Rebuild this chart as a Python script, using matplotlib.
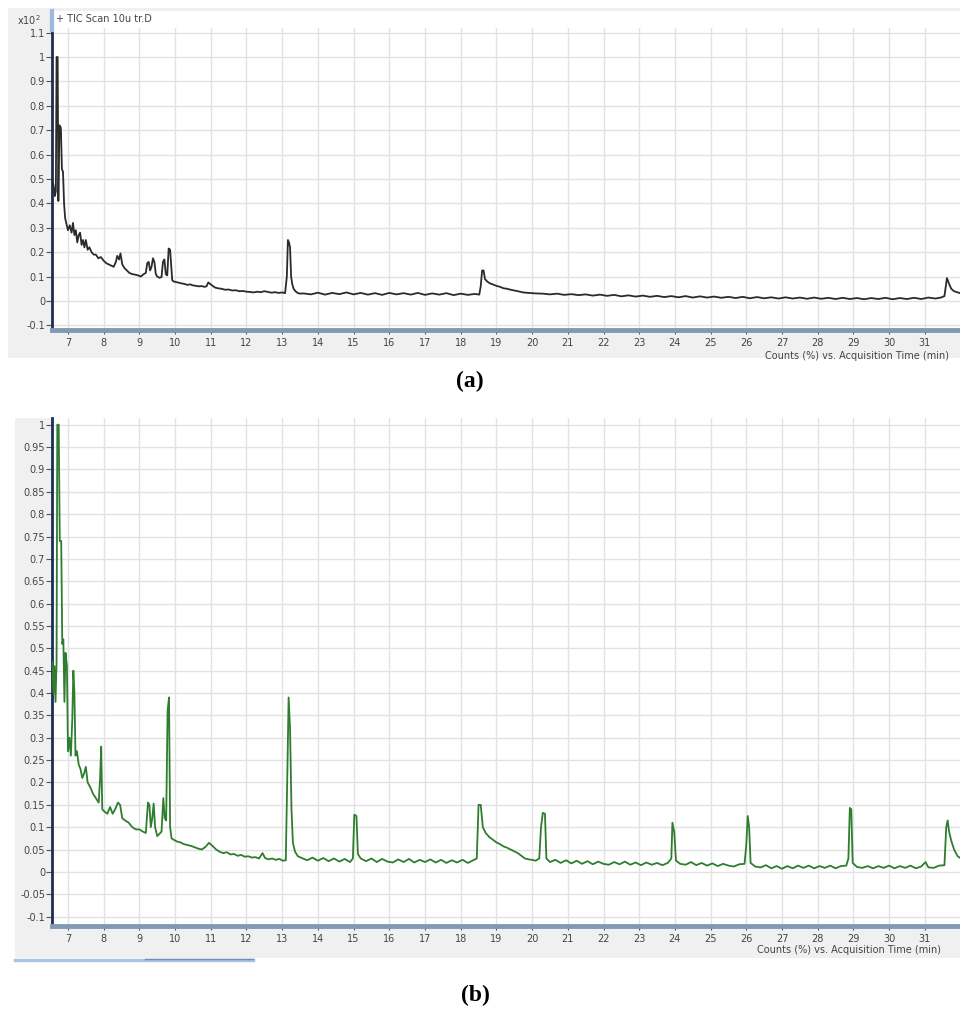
import matplotlib.pyplot as plt
from matplotlib.patches import Rectangle
from matplotlib.lines import Line2D

# TIC chromatogram (a): time (min), counts (x10^2 %)
tempo_a = [6.56, 6.60, 6.63, 6.66, 6.68, 6.71, 6.73, 6.76, 6.80, 6.83, 6.86, 6.89, 6.92, 6.95,
           7.00, 7.05, 7.10, 7.14, 7.18, 7.22, 7.26, 7.30, 7.34, 7.38, 7.42, 7.46, 7.50, 7.55,
           7.60, 7.66, 7.72, 7.78, 7.85, 7.92, 8.00, 8.07, 8.14, 8.21, 8.28, 8.34, 8.38, 8.43,
           8.47, 8.52, 8.58, 8.65, 8.72, 8.80, 8.88, 8.96, 9.04, 9.12, 9.18, 9.22, 9.26, 9.30,
           9.34, 9.38, 9.42, 9.46, 9.50, 9.56, 9.62, 9.66, 9.70, 9.74, 9.78, 9.82, 9.86, 9.89,
           9.92, 9.96, 10.02, 10.10, 10.18, 10.26, 10.34, 10.42, 10.50, 10.58, 10.66, 10.74,
           10.82, 10.88, 10.93, 10.98, 11.05, 11.12, 11.20, 11.30, 11.40, 11.50, 11.60, 11.70,
           11.80, 11.90, 12.00, 12.10, 12.20, 12.30, 12.40, 12.50, 12.60, 12.70, 12.80, 12.90,
           13.00, 13.08, 13.13, 13.16, 13.19, 13.22, 13.25, 13.28, 13.32, 13.37, 13.43, 13.50,
           13.60, 13.80, 14.00, 14.20, 14.40, 14.60, 14.80, 15.00, 15.20, 15.40, 15.60, 15.80,
           16.00, 16.20, 16.40, 16.60, 16.80, 17.00, 17.20, 17.40, 17.60, 17.80, 18.00, 18.20,
           18.40, 18.52, 18.56, 18.60, 18.64, 18.68, 18.74, 18.82, 18.90, 19.00, 19.10, 19.20,
           19.30, 19.40, 19.50, 19.60, 19.75, 19.90, 20.10, 20.30, 20.50, 20.70, 20.90, 21.10,
           21.30, 21.50, 21.70, 21.90, 22.10, 22.30, 22.50, 22.70, 22.90, 23.10, 23.30, 23.50,
           23.70, 23.90, 24.10, 24.30, 24.50, 24.70, 24.90, 25.10, 25.30, 25.50, 25.70, 25.90,
           26.10, 26.30, 26.50, 26.70, 26.90, 27.10, 27.30, 27.50, 27.70, 27.90, 28.10, 28.30,
           28.50, 28.70, 28.90, 29.10, 29.30, 29.50, 29.70, 29.90, 30.10, 30.30, 30.50, 30.70,
           30.90, 31.10, 31.30, 31.45, 31.55, 31.62, 31.68, 31.74, 31.82, 31.92, 32.05, 32.20,
           32.40]
contagem_a = [0.50, 0.47, 0.43, 0.45, 1.00, 1.00, 0.41, 0.72, 0.71, 0.54, 0.53, 0.40, 0.34, 0.32,
              0.29, 0.31, 0.28, 0.32, 0.27, 0.29, 0.24, 0.27, 0.28, 0.23, 0.25, 0.22, 0.25, 0.21,
              0.22, 0.20, 0.19, 0.19, 0.175, 0.18, 0.165, 0.155, 0.15, 0.145, 0.14, 0.16, 0.185, 0.17,
              0.195, 0.15, 0.135, 0.125, 0.115, 0.11, 0.108, 0.105, 0.10, 0.11, 0.115, 0.155, 0.16, 0.125,
              0.14, 0.175, 0.16, 0.11, 0.10, 0.095, 0.098, 0.16, 0.17, 0.11, 0.105, 0.215, 0.21, 0.15,
              0.085, 0.08, 0.078, 0.075, 0.072, 0.07, 0.066, 0.068, 0.064, 0.062, 0.06, 0.061,
              0.058, 0.06, 0.076, 0.07, 0.062, 0.055, 0.052, 0.05, 0.046, 0.047, 0.043, 0.044,
              0.04, 0.041, 0.038, 0.037, 0.035, 0.038, 0.036, 0.04, 0.037, 0.034, 0.036, 0.033,
              0.035, 0.032, 0.10, 0.25, 0.24, 0.22, 0.10, 0.07, 0.05, 0.04, 0.033, 0.03,
              0.031, 0.027, 0.034, 0.026, 0.033, 0.028, 0.035, 0.027, 0.033, 0.026, 0.032, 0.025,
              0.033, 0.027, 0.032, 0.026, 0.033, 0.025, 0.031, 0.026, 0.032, 0.024, 0.030, 0.025,
              0.029, 0.026, 0.06, 0.125, 0.125, 0.09, 0.08, 0.072, 0.068, 0.062, 0.058, 0.052,
              0.05, 0.046, 0.043, 0.040, 0.035, 0.033, 0.031, 0.030, 0.027, 0.030, 0.025, 0.028,
              0.024, 0.027, 0.022, 0.026, 0.021, 0.025, 0.019, 0.023, 0.018, 0.022, 0.017, 0.021,
              0.016, 0.020, 0.015, 0.020, 0.014, 0.019, 0.014, 0.018, 0.013, 0.017, 0.012, 0.017,
              0.011, 0.016, 0.011, 0.015, 0.010, 0.015, 0.010, 0.014, 0.009, 0.014, 0.009, 0.013,
              0.008, 0.013, 0.008, 0.012, 0.007, 0.012, 0.008, 0.013, 0.007, 0.012, 0.008, 0.013,
              0.008, 0.014, 0.010, 0.014, 0.02, 0.094, 0.07, 0.05, 0.04, 0.035, 0.03, 0.028,
              0.026]

# chromatogram (b)
tempo_b = [6.56, 6.59, 6.62, 6.65, 6.68, 6.70, 6.74, 6.77, 6.81, 6.84, 6.87, 6.90, 6.93, 6.97,
           7.00, 7.04, 7.08, 7.12, 7.15, 7.18, 7.21, 7.25, 7.30, 7.35, 7.40, 7.45, 7.50, 7.55,
           7.62, 7.70, 7.78, 7.86, 7.90, 7.93, 7.96, 8.02, 8.10, 8.18, 8.25, 8.32, 8.40, 8.46,
           8.52, 8.60, 8.70, 8.80, 8.90, 9.00, 9.10, 9.18, 9.24, 9.28, 9.32, 9.36, 9.40, 9.44,
           9.50, 9.56, 9.62, 9.67, 9.71, 9.75, 9.79, 9.83, 9.86, 9.90, 9.96, 10.05, 10.15, 10.25,
           10.35, 10.45, 10.55, 10.65, 10.75, 10.85, 10.95, 11.05, 11.15, 11.25, 11.35, 11.45,
           11.55, 11.65, 11.75, 11.85, 11.95, 12.05, 12.15, 12.25, 12.35, 12.45, 12.52, 12.62,
           12.72, 12.82, 12.92, 13.02, 13.10, 13.14, 13.18, 13.22, 13.26, 13.30, 13.36, 13.44,
           13.55, 13.70, 13.85, 14.00, 14.15, 14.30, 14.45, 14.60, 14.75, 14.90, 14.98, 15.02,
           15.08, 15.12, 15.20, 15.35, 15.50, 15.65, 15.80, 15.95, 16.10, 16.25, 16.40, 16.55,
           16.70, 16.85, 17.00, 17.15, 17.30, 17.45, 17.60, 17.75, 17.90, 18.05, 18.20, 18.35,
           18.45, 18.50, 18.56, 18.62, 18.70, 18.80, 18.90, 19.00, 19.10, 19.20, 19.30, 19.40,
           19.50, 19.60, 19.70, 19.80, 19.90, 20.00, 20.10, 20.20, 20.25, 20.30, 20.36, 20.40,
           20.50, 20.65, 20.80, 20.95, 21.10, 21.25, 21.40, 21.55, 21.70, 21.85, 22.00, 22.15,
           22.30, 22.45, 22.60, 22.75, 22.90, 23.05, 23.20, 23.35, 23.50, 23.65, 23.80, 23.90,
           23.93, 23.98, 24.03, 24.15, 24.30, 24.45, 24.60, 24.75, 24.90, 25.05, 25.20, 25.35,
           25.50, 25.65, 25.80, 25.95, 26.00, 26.04, 26.08, 26.12, 26.25, 26.40, 26.55, 26.70,
           26.85, 27.00, 27.15, 27.30, 27.45, 27.60, 27.75, 27.90, 28.05, 28.20, 28.35, 28.50,
           28.65, 28.80, 28.86, 28.90, 28.94, 28.98, 29.10, 29.25, 29.40, 29.55, 29.70, 29.85,
           30.00, 30.15, 30.30, 30.45, 30.60, 30.75, 30.90, 31.02, 31.10, 31.25, 31.40, 31.55,
           31.60, 31.64, 31.68, 31.74, 31.82, 31.92, 32.05, 32.20, 32.40]
contagem_b = [0.47, 0.40, 0.46, 0.38, 0.47, 1.00, 1.00, 0.74, 0.74, 0.51, 0.52, 0.38, 0.49, 0.46,
              0.27, 0.30, 0.26, 0.34, 0.45, 0.40, 0.26, 0.27, 0.24, 0.23, 0.21, 0.22, 0.235, 0.20,
              0.19, 0.175, 0.165, 0.155, 0.21, 0.28, 0.14, 0.135, 0.13, 0.145, 0.13, 0.14, 0.155, 0.15,
              0.12, 0.115, 0.11, 0.10, 0.095, 0.095, 0.09, 0.087, 0.155, 0.15, 0.10, 0.12, 0.153, 0.10,
              0.08, 0.085, 0.09, 0.165, 0.12, 0.115, 0.36, 0.39, 0.10, 0.075, 0.072, 0.068, 0.066, 0.062,
              0.06, 0.058, 0.055, 0.052, 0.05, 0.056, 0.065, 0.058, 0.05, 0.045, 0.042, 0.044,
              0.039, 0.04, 0.036, 0.038, 0.034, 0.035, 0.032, 0.033, 0.030, 0.042, 0.031, 0.028,
              0.030, 0.027, 0.029, 0.025, 0.026, 0.20, 0.39, 0.32, 0.14, 0.065, 0.045, 0.035,
              0.031, 0.026, 0.032, 0.025, 0.031, 0.024, 0.030, 0.023, 0.029, 0.022, 0.03, 0.128,
              0.125, 0.04, 0.03, 0.024, 0.030, 0.022, 0.029, 0.023, 0.021, 0.028, 0.022, 0.029,
              0.021, 0.027, 0.022, 0.028, 0.021, 0.027, 0.020, 0.026, 0.021, 0.027, 0.020, 0.026,
              0.03, 0.15, 0.15, 0.10, 0.087, 0.078, 0.072, 0.066, 0.062, 0.057, 0.054, 0.05,
              0.046, 0.042, 0.036, 0.030, 0.028, 0.027, 0.025, 0.030, 0.10, 0.132, 0.13, 0.03,
              0.022, 0.027, 0.020, 0.026, 0.019, 0.025, 0.018, 0.024, 0.017, 0.023, 0.018, 0.016,
              0.022, 0.017, 0.023, 0.016, 0.021, 0.015, 0.021, 0.016, 0.020, 0.015, 0.020, 0.03,
              0.11, 0.09, 0.025, 0.018, 0.016, 0.022, 0.015, 0.020, 0.014, 0.019, 0.013, 0.018,
              0.014, 0.012, 0.017, 0.018, 0.06, 0.125, 0.10, 0.02, 0.012, 0.010, 0.015, 0.008,
              0.013, 0.007, 0.013, 0.008, 0.014, 0.009, 0.014, 0.008, 0.013, 0.009, 0.014, 0.008,
              0.013, 0.014, 0.03, 0.143, 0.14, 0.02, 0.011, 0.009, 0.013, 0.008, 0.013, 0.009,
              0.014, 0.008, 0.013, 0.009, 0.014, 0.008, 0.012, 0.022, 0.010, 0.009, 0.014, 0.015,
              0.10, 0.115, 0.09, 0.07, 0.05, 0.035, 0.028, 0.025, 0.023]

ticks_x = list(range(7, 33))
labels_x = [str(t) for t in range(7, 32)] + ['']
ticks_ya = [-0.1, 0, 0.1, 0.2, 0.3, 0.4, 0.5, 0.6, 0.7, 0.8, 0.9, 1, 1.1]
labels_ya = ['-0.1', '0', '0.1', '0.2', '0.3', '0.4', '0.5', '0.6', '0.7', '0.8', '0.9', '1', '1.1']
ticks_yb = [-0.1, -0.05, 0, 0.05, 0.1, 0.15, 0.2, 0.25, 0.3, 0.35, 0.4, 0.45, 0.5,
            0.55, 0.6, 0.65, 0.7, 0.75, 0.8, 0.85, 0.9, 0.95, 1]
labels_yb = ['-0.1', '-0.05', '0', '0.05', '0.1', '0.15', '0.2', '0.25', '0.3', '0.35', '0.4',
             '0.45', '0.5', '0.55', '0.6', '0.65', '0.7', '0.75', '0.8', '0.85', '0.9', '0.95', '1']

W, H = 960, 1010
fig = plt.figure(figsize=(9.6, 10.1), dpi=100)


def fx(px):
    return px / W


def fy(py):
    return 1 - py / H


# fundos cinza dos dois paineis (atras dos eixos)
fig.patches.append(Rectangle((fx(8), fy(358)), fx(952), 350 / H, transform=fig.transFigure,
                             facecolor='#f0f0f0', edgecolor='none', zorder=-5))
# faixa branca do cabecalho acima do grafico (a)
fig.patches.append(Rectangle((fx(52), fy(29)), fx(908), 18 / H, transform=fig.transFigure,
                             facecolor='white', edgecolor='none', zorder=-4))
fig.patches.append(Rectangle((fx(15), fy(958)), fx(945), 540 / H, transform=fig.transFigure,
                             facecolor='#f0f0f0', edgecolor='none', zorder=-5))
# barra de rolagem azul embaixo do (b)
fig.lines.append(Line2D([fx(15), fx(253)], [fy(960), fy(960)], transform=fig.transFigure,
                        color='#a9c5e3', lw=2.5))
fig.lines.append(Line2D([fx(145), fx(253)], [fy(959), fy(959)], transform=fig.transFigure,
                        color='#6f8fb8', lw=1))


def painel(ax, tempo, contagem, cor, ticks_y, labels_y, ylim):
    ax.set_facecolor('white')
    ax.plot(tempo, contagem, color=cor, lw=1.3, zorder=3)
    ax.set_xlim(6.552, 32.49)
    ax.set_ylim(*ylim)
    ax.set_xticks(ticks_x)
    ax.set_xticklabels(labels_x)
    ax.set_yticks(ticks_y)
    ax.set_yticklabels(labels_y)
    ax.grid(True, color='#e2e2e2', lw=1)
    ax.set_axisbelow(True)
    for s in ['top', 'right']:
        ax.spines[s].set_visible(False)
    ax.spines['left'].set_color('#1d2d55')
    ax.spines['left'].set_linewidth(2)
    ax.spines['bottom'].set_color('#8199b2')
    ax.spines['bottom'].set_linewidth(3.5)
    ax.tick_params(axis='y', direction='out', length=4, width=0.8, color='#555555',
                   labelsize=7, labelcolor='#444444', pad=1)
    ax.tick_params(axis='x', direction='out', length=3, width=0.8, color='#555555',
                   labelsize=7, labelcolor='#444444', pad=3)


# painel (a)
ax1 = fig.add_axes([fx(52), fy(330), fx(926), 302 / H])
painel(ax1, tempo_a, contagem_a, '#2b2b2b', ticks_ya, labels_ya, (-0.119, 1.119))
fig.lines.append(Line2D([fx(52), fx(52)], [fy(11), fy(30)], transform=fig.transFigure,
                        color='#9cbbdc', lw=3))
fig.text(fx(17), fy(20), r'x10$^{2}$', fontsize=7, color='#444444', va='center')
fig.text(fx(56), fy(19), '+ TIC Scan 10u tr.D', fontsize=7, color='#444444', va='center')
fig.text(fx(765), fy(356), 'Counts (%) vs. Acquisition Time (min)', fontsize=7,
         color='#444444', va='center')
fig.text(fx(470), fy(381), '(a)', fontsize=17, fontweight='bold',
         family='Liberation Serif', ha='center', va='center')

# painel (b)
ax2 = fig.add_axes([fx(52), fy(926), fx(926), 508 / H])
painel(ax2, tempo_b, contagem_b, '#2f7d2f', ticks_yb, labels_yb, (-0.121, 1.015))
fig.text(fx(757), fy(950), 'Counts (%) vs. Acquisition Time (min)', fontsize=7,
         color='#444444', va='center')
fig.text(fx(475), fy(995), '(b)', fontsize=17, fontweight='bold',
         family='Liberation Serif', ha='center', va='center')

fig.savefig('out.png', dpi=100)
